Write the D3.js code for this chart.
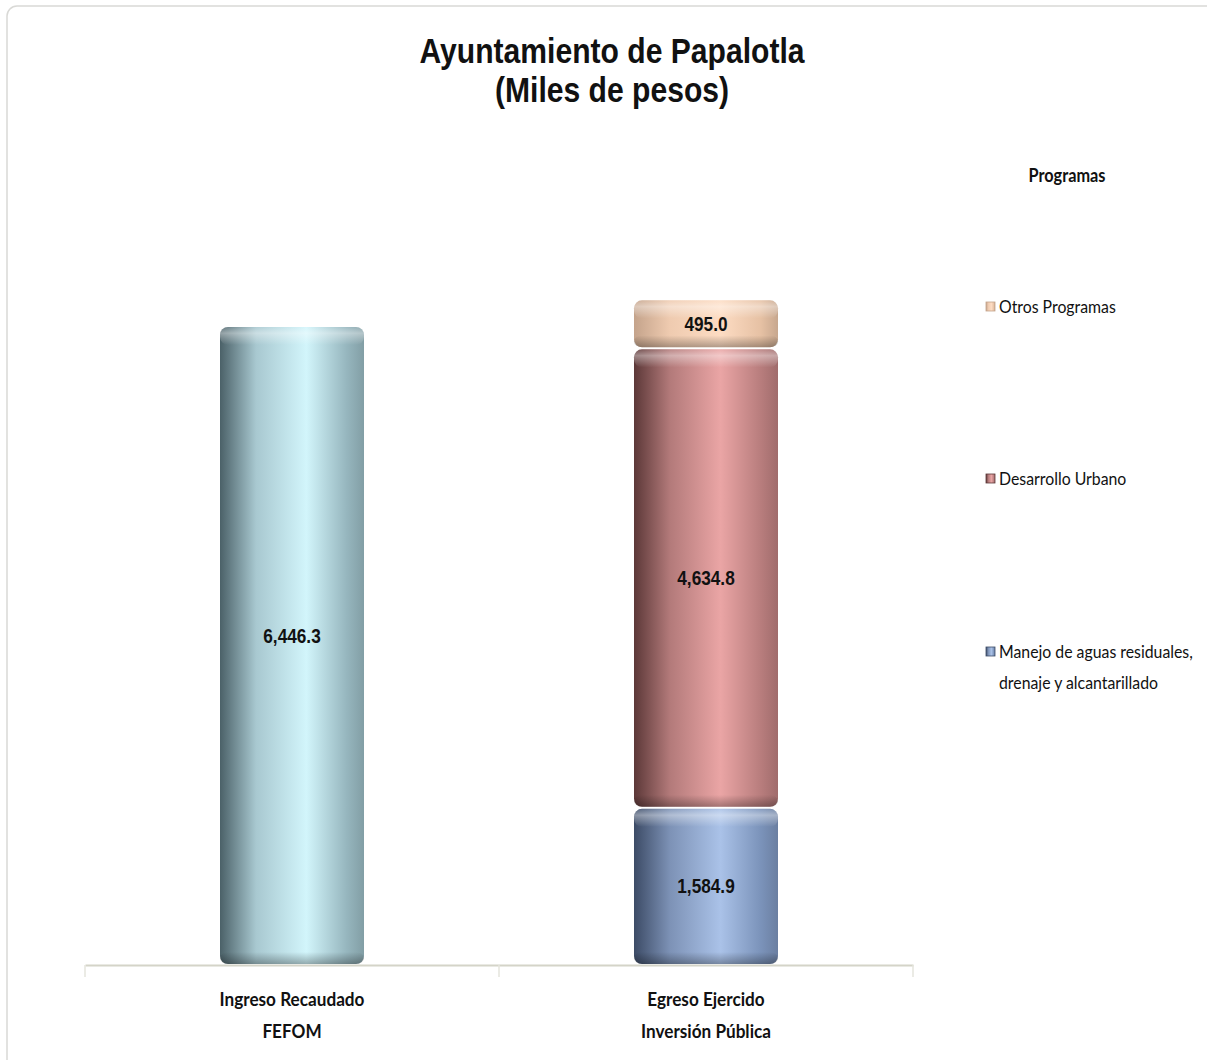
<!DOCTYPE html>
<html>
<head>
<meta charset="utf-8">
<script src="https://cdn.jsdelivr.net/npm/d3@7"></script>
<style>
  body { margin: 0; background: #fff; }
  .narrow { font-family: "Liberation Sans Narrow", "Arial Narrow", "Liberation Sans", sans-serif; font-weight: bold; }
  .calibri { font-family: Lato, "Open Sans", sans-serif; }
</style>
</head>
<body>
<script>
// Data //////////////////////////////////////
var categories = ["Ingreso Recaudado|FEFOM", "Egreso Ejercido|Inversión Pública"];
var programas = ["Manejo de aguas residuales, drenaje y alcantarillado", "Desarrollo Urbano", "Otros Programas"];
var legendLines = [["Manejo de aguas residuales,", "drenaje y alcantarillado"], ["Desarrollo Urbano"], ["Otros Programas"]];
var ingreso = [6446.3];
var egreso = [1584.9, 4634.8, 495.0];

// colours for each cylinder: dark edge, mid, light middle, right edge
var cylColors = {
  ingreso: ["#4b6168", "#a8c8d0", "#d2f5fb", "#96b6be"],
  p0: ["#3c4b66", "#7d92b6", "#aac2e8", "#7b93ba"],
  p1: ["#5c3838", "#b37a7a", "#eaa5a5", "#b87d7d"],
  p2: ["#c4a38b", "#efcbb0", "#fddcc3", "#e6c1a4"]
};

// Chart Config ///////////////////////////////
var W = 1207, H = 1060;
var plot = {left: 85, right: 913, top: 271, bottom: 965};
var narrowX = 0.82, calibriX = 0.88;

var svg = d3.select("body").append("svg").attr("width", W).attr("height", H);
var defs = svg.append("defs");

// frame
svg.append("rect").attr("x", 7).attr("y", 6).attr("width", 1230).attr("height", 1080)
  .attr("rx", 10).attr("fill", "#fff").attr("stroke", "#d9d9d6").attr("stroke-width", 1.5);

// gradients
Object.keys(cylColors).forEach(function(k) {
  var c = cylColors[k];
  var g = defs.append("linearGradient").attr("id", "g-" + k).attr("x1", 0).attr("x2", 1).attr("y1", 0).attr("y2", 0);
  [[0, c[0]], [0.25, c[1]], [0.6, c[2]], [0.88, c[3]], [1, d3.color(c[3]).darker(0.4)]].forEach(function(s) {
    g.append("stop").attr("offset", s[0]).attr("stop-color", s[1]);
  });
});
var gt = defs.append("linearGradient").attr("id", "topHi").attr("x1", 0).attr("x2", 0).attr("y1", 0).attr("y2", 1);
gt.append("stop").attr("offset", 0).attr("stop-color", "#fff").attr("stop-opacity", 0.1);
gt.append("stop").attr("offset", 0.35).attr("stop-color", "#fff").attr("stop-opacity", 0.4);
gt.append("stop").attr("offset", 1).attr("stop-color", "#fff").attr("stop-opacity", 0);
var gb = defs.append("linearGradient").attr("id", "botSh").attr("x1", 0).attr("x2", 0).attr("y1", 0).attr("y2", 1);
gb.append("stop").attr("offset", 0).attr("stop-color", "#000").attr("stop-opacity", 0);
gb.append("stop").attr("offset", 1).attr("stop-color", "#000").attr("stop-opacity", 0.3);

var xScale = d3.scaleBand().domain(categories).range([plot.left, plot.right]).paddingInner(0).paddingOuter(0);
var yScale = d3.scaleLinear().domain([0, 7000]).range([plot.bottom, plot.top]);
var barW = 144;

// title
var title = svg.append("g").attr("transform", "translate(612,0) scale(0.86,1)")
  .append("text").attr("class", "narrow").attr("text-anchor", "middle")
  .attr("font-size", 35).attr("fill", "#111");
title.append("tspan").attr("x", 0).attr("y", 63).text("Ayuntamiento de Papalotla");
title.append("tspan").attr("x", 0).attr("y", 102).text("(Miles de pesos)");

// segments
var stack = d3.stack().keys([0, 1, 2])([egreso]);
var segs = [{cat: categories[0], y0: 0, y1: ingreso[0], v: ingreso[0], key: "ingreso"}];
stack.forEach(function(s, i) {
  segs.push({cat: categories[1], y0: s[0][0], y1: s[0][1], v: egreso[i], key: "p" + i});
});

var fmt = d3.format(",.1f");
function bx(d) { return xScale(d.cat) + xScale.bandwidth() / 2 - barW / 2; }

var gSeg = svg.append("g").selectAll("g").data(segs).join("g");
gSeg.append("rect")
  .attr("x", bx)
  .attr("y", function(d) { return yScale(d.y1) + 1; })
  .attr("width", barW)
  .attr("height", function(d) { return yScale(d.y0) - yScale(d.y1) - 2; })
  .attr("rx", 8)
  .attr("fill", function(d) { return "url(#g-" + d.key + ")"; });
// top highlight
gSeg.append("rect")
  .attr("x", bx)
  .attr("y", function(d) { return yScale(d.y1) + 1; })
  .attr("width", barW)
  .attr("height", 18)
  .attr("rx", 8)
  .attr("fill", "url(#topHi)");
// bottom shadow
gSeg.append("rect")
  .attr("x", bx)
  .attr("y", function(d) { return yScale(d.y0) - 13; })
  .attr("width", barW)
  .attr("height", 12)
  .attr("rx", 8)
  .attr("fill", "url(#botSh)");
gSeg.append("text").attr("class", "narrow").attr("text-anchor", "middle")
  .attr("font-size", 21).attr("fill", "#111")
  .attr("transform", function(d) {
    var cx = xScale(d.cat) + xScale.bandwidth() / 2;
    var cy = (yScale(d.y0) + yScale(d.y1)) / 2 + 7 - (d.key === "ingreso" ? 9 : 0);
    return "translate(" + cx + "," + cy + ") scale(" + narrowX + ",1)";
  })
  .text(function(d) { return fmt(d.v); });

// x axis
var xAxis = d3.axisBottom(xScale).tickSize(0).tickFormat("");
var xAxisEl = svg.append("g").attr("transform", "translate(0," + plot.bottom + ")").call(xAxis);
xAxisEl.select(".domain").attr("stroke", "#d4d4c8").attr("stroke-width", 2);
xAxisEl.selectAll(".bound").data([plot.left, plot.left + xScale.bandwidth(), plot.right]).join("line")
  .attr("x1", function(d) { return d; }).attr("x2", function(d) { return d; })
  .attr("y1", 0).attr("y2", 12).attr("stroke", "#e4e4dc").attr("stroke-width", 1.5);

var catLbl = svg.append("g").selectAll("text").data(categories).join("text")
  .attr("class", "calibri").attr("font-weight", "bold").attr("font-size", 19.5).attr("fill", "#111")
  .attr("text-anchor", "middle")
  .attr("transform", function(d) { return "translate(" + (xScale(d) + xScale.bandwidth() / 2) + ",0) scale(" + calibriX + ",1)"; });
catLbl.each(function(d) {
  var t = d3.select(this);
  d.split("|").forEach(function(line, i) {
    t.append("tspan").attr("x", 0).attr("y", 1006 + i * 32).text(line);
  });
});

// legend
svg.append("text").attr("class", "calibri").attr("font-weight", "bold").attr("font-size", 18.5)
  .attr("fill", "#111").attr("text-anchor", "middle")
  .attr("transform", "translate(1067,182) scale(" + calibriX + ",1)").text("Programas");
var legY = [658, 485, 313];
var leg = svg.append("g").selectAll("g").data(programas).join("g")
  .attr("transform", function(d, i) { return "translate(986," + legY[i] + ")"; });
leg.append("rect").attr("x", 0).attr("y", -11).attr("width", 9).attr("height", 9)
  .attr("fill", function(d, i) { return "url(#g-p" + i + ")"; })
  .attr("stroke", function(d, i) { return cylColors["p" + i][0]; }).attr("stroke-width", 0.8);
leg.append("text").attr("class", "calibri").attr("font-size", 18).attr("fill", "#111")
  .attr("transform", "translate(13,0) scale(" + calibriX + ",1)")
  .each(function(d, i) {
    var t = d3.select(this);
    legendLines[i].forEach(function(line, j) {
      t.append("tspan").attr("x", 0).attr("y", j * 31).text(line);
    });
  });
</script>
</body>
</html>
